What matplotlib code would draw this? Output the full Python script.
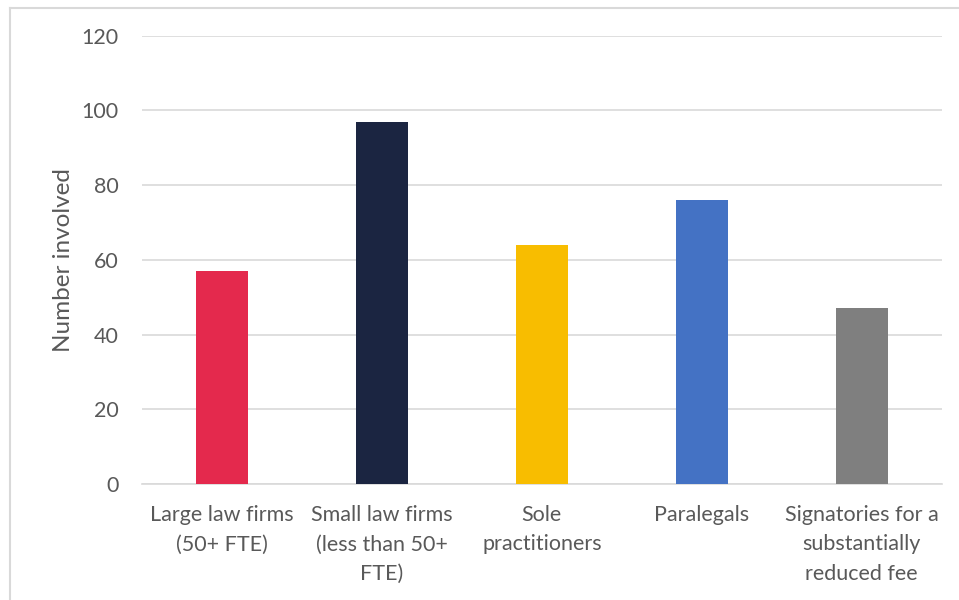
import matplotlib
matplotlib.use("Agg")
import matplotlib.pyplot as plt
from matplotlib.lines import Line2D

# Chart data
categories = [
    "Large law firms\n(50+ FTE)",
    "Small law firms\n(less than 50+\nFTE)",
    "Sole\npractitioners",
    "Paralegals",
    "Signatories for a\nsubstantially\nreduced fee",
]
values = [57, 97, 64, 76, 47]
colors = ["#E4294D", "#1B2541", "#F8BD00", "#4472C4", "#7F7F7F"]
y_ticks = [0, 20, 40, 60, 80, 100, 120]

plt.rcParams["font.family"] = ["Lato", "DejaVu Sans"]
text_color = "#595959"
grid_color = "#D9D9D9"

fig = plt.figure(figsize=(9.59, 6.0), dpi=100)
ax = fig.add_axes([0.148, 0.1933, 0.834, 0.7474])

x = range(len(categories))
ax.bar(x, values, width=0.325, color=colors, zorder=3)

ax.set_ylim(0, 120)
ax.set_xlim(-0.5, len(categories) - 0.5)
ax.set_yticks(y_ticks)
ax.set_xticks(list(x))
ax.set_xticklabels(categories, linespacing=1.6)
ax.yaxis.grid(True, color=grid_color, linewidth=1.2, zorder=0)
ax.tick_params(axis="both", length=0, colors=text_color, labelsize=15.5)
ax.tick_params(axis="y", pad=17)
ax.tick_params(axis="x", pad=15)
for side in ["top", "right", "left"]:
    ax.spines[side].set_visible(False)
ax.spines["bottom"].set_color(grid_color)
ax.spines["bottom"].set_linewidth(1.2)

ax.set_ylabel("Number involved", fontsize=17.5, color=text_color)
ax.yaxis.set_label_coords(-0.0845, 0.5)

# outer chart frame (only left and top edges visible in the crop)
fig.add_artist(Line2D([10 / 959, 10 / 959], [0, 1 - 8 / 600], color="#D9D9D9", linewidth=1.5, transform=fig.transFigure))
fig.add_artist(Line2D([10 / 959, 1], [1 - 8 / 600, 1 - 8 / 600], color="#D9D9D9", linewidth=1.5, transform=fig.transFigure))

fig.savefig("out.png", dpi=100)
